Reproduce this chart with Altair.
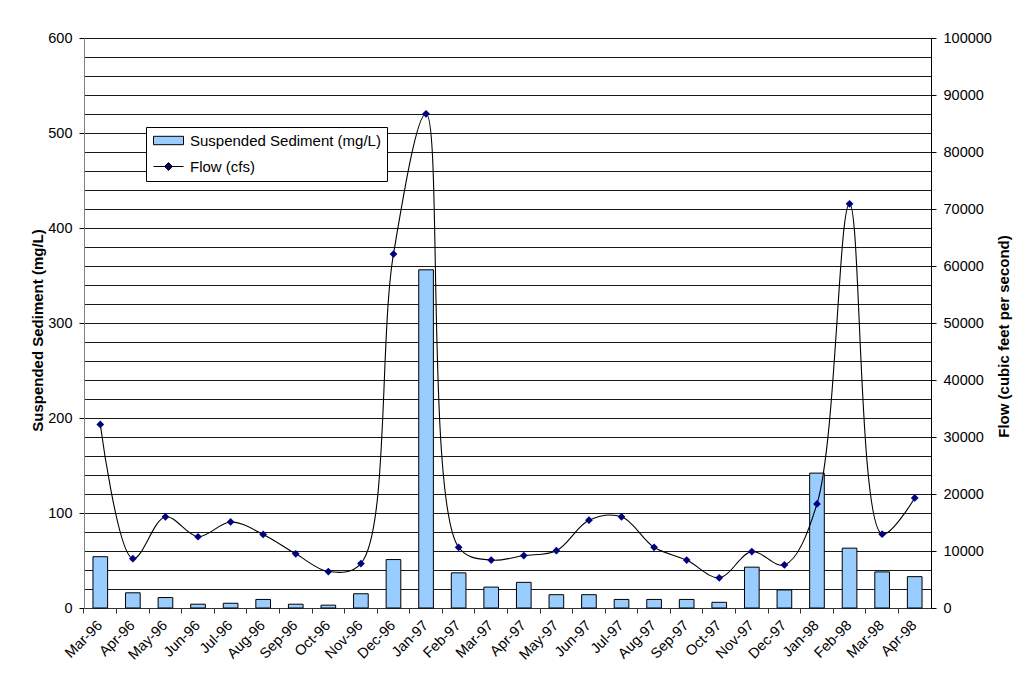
import altair as alt
import pandas as pd

months = ["Mar-96", "Apr-96", "May-96", "Jun-96", "Jul-96", "Aug-96", "Sep-96",
          "Oct-96", "Nov-96", "Dec-96", "Jan-97", "Feb-97", "Mar-97", "Apr-97",
          "May-97", "Jun-97", "Jul-97", "Aug-97", "Sep-97", "Oct-97", "Nov-97",
          "Dec-97", "Jan-98", "Feb-98", "Mar-98", "Apr-98"]
sediment = [54, 16, 11, 4, 5, 9, 4, 3, 15, 51, 356, 37, 22, 27, 14, 14, 9, 9, 9,
            6, 43, 19, 142, 63, 38, 33]
flow = [32200, 8650, 16000, 12500, 15100, 12900, 9500, 6400, 7800, 62100, 86700,
        10650, 8400, 9200, 10050, 15400, 16000, 10650, 8400, 5300, 9900, 7550,
        18250, 70900, 12950, 19300]
left_ticks = list(range(0, 601, 20))
right_ticks = list(range(0, 100001, 10000))
SS_LABEL = "Suspended Sediment (mg/L)"
FLOW_LABEL = "Flow (cfs)"
legend_items = [SS_LABEL, FLOW_LABEL]

df = pd.DataFrame({"month": months, "sediment": sediment, "flow": flow})
legend_df = pd.DataFrame({"series": legend_items})

FONT = "Liberation Sans"
W, H = 847, 570

x_enc = alt.X(
    "month:N", sort=months,
    scale=alt.Scale(paddingInner=0, paddingOuter=0),
    axis=alt.Axis(
        title=None, labelAngle=315, labelAlign="right", labelBaseline="middle",
        bandPosition=0, tickSize=5, labelPadding=10,
        domainColor="#333333", tickColor="#333333", labelColor="black",
        labelFont=FONT, labelFontSize=14.5,
    ),
)

bars = alt.Chart(df).mark_bar(
    width=alt.RelativeBandSize(0.45), fill="#99ccff", stroke="black", strokeWidth=1
).encode(
    x=x_enc,
    y=alt.Y(
        "sediment:Q",
        scale=alt.Scale(domain=[0, 600], nice=False),
        axis=alt.Axis(
            values=left_ticks,
            labelExpr="datum.value % 100 === 0 ? datum.label : ''",
            tickColor={"condition": {"test": "datum.value % 100 === 0", "value": "black"},
                       "value": "transparent"},
            grid=True, gridColor="black", gridWidth=1, gridOpacity=0.9,
            domainColor="#808080", tickSize=5, labelPadding=7,
            labelFont=FONT, labelFontSize=14.5, labelColor="black",
            title="Suspended Sediment (mg/L)", titleFont=FONT, titleFontSize=15,
            titleFontWeight="bold", titleColor="black", titleX=-47, titleY=292,
            titleBaseline="middle", titleAngle=270,
        ),
    ),
)

flow_y = alt.Y(
    "flow:Q",
    scale=alt.Scale(domain=[0, 100000], nice=False),
    axis=alt.Axis(
        orient="right", values=right_ticks, grid=False, format="d",
        domainColor="black", tickColor="black", tickSize=5, labelPadding=7,
        labelFont=FONT, labelFontSize=14.5, labelColor="black",
        title="Flow (cubic feet per second)", titleFont=FONT, titleFontSize=15,
        titleFontWeight="bold", titleColor="black", titleX=72, titleY=298,
        titleBaseline="middle", titleAngle=270,
    ),
)

line = alt.Chart(df).mark_line(
    interpolate="catmull-rom", color="black", strokeWidth=1.1
).encode(x=x_enc, y=flow_y)

points = alt.Chart(df).mark_point(
    shape="diamond", filled=True, size=60, color="#000080", opacity=1
).encode(x=x_enc, y=flow_y)

flow_layer = alt.layer(line, points)

rect_path = "M-1,-0.7L4,-0.7L4,0.7L-1,0.7Z"
flow_path = "M-1,0L4,0M1.5,-0.65L2.15,0L1.5,0.65L0.85,0Z"
leg = alt.Legend(
    title=None, orient="none", legendX=62, legendY=89,
    strokeColor="black", fillColor="white", padding=6, cornerRadius=0,
    labelFont=FONT, labelFontSize=15, labelColor="black", labelOffset=23,
    labelLimit=400, rowPadding=10, symbolSize=144, symbolStrokeWidth=1,
    symbolOpacity=1,
)
legend_layer = alt.Chart(legend_df).transform_filter("false").mark_point(
    filled=True, opacity=1, strokeWidth=1, size=144
).encode(
    color=alt.Color("series:N", scale=alt.Scale(domain=legend_items,
                                                range=["#99ccff", "#000080"]),
                    legend=leg),
    shape=alt.Shape("series:N", scale=alt.Scale(domain=legend_items,
                                                range=[rect_path, flow_path]),
                    legend=leg),
    stroke=alt.Stroke("series:N", scale=alt.Scale(domain=legend_items,
                                                  range=["black", "black"]),
                      legend=leg),
)

chart = alt.layer(bars, flow_layer, legend_layer).resolve_scale(
    y="independent"
).properties(
    width=W, height=H,
    autosize=alt.AutoSizeParams(type="none"),
    padding={"left": 76, "top": 30, "right": 82, "bottom": 57},
).configure(font=FONT).configure_view(stroke="transparent")

chart.save("out.html", embed_options={"renderer": "svg", "actions": False})
